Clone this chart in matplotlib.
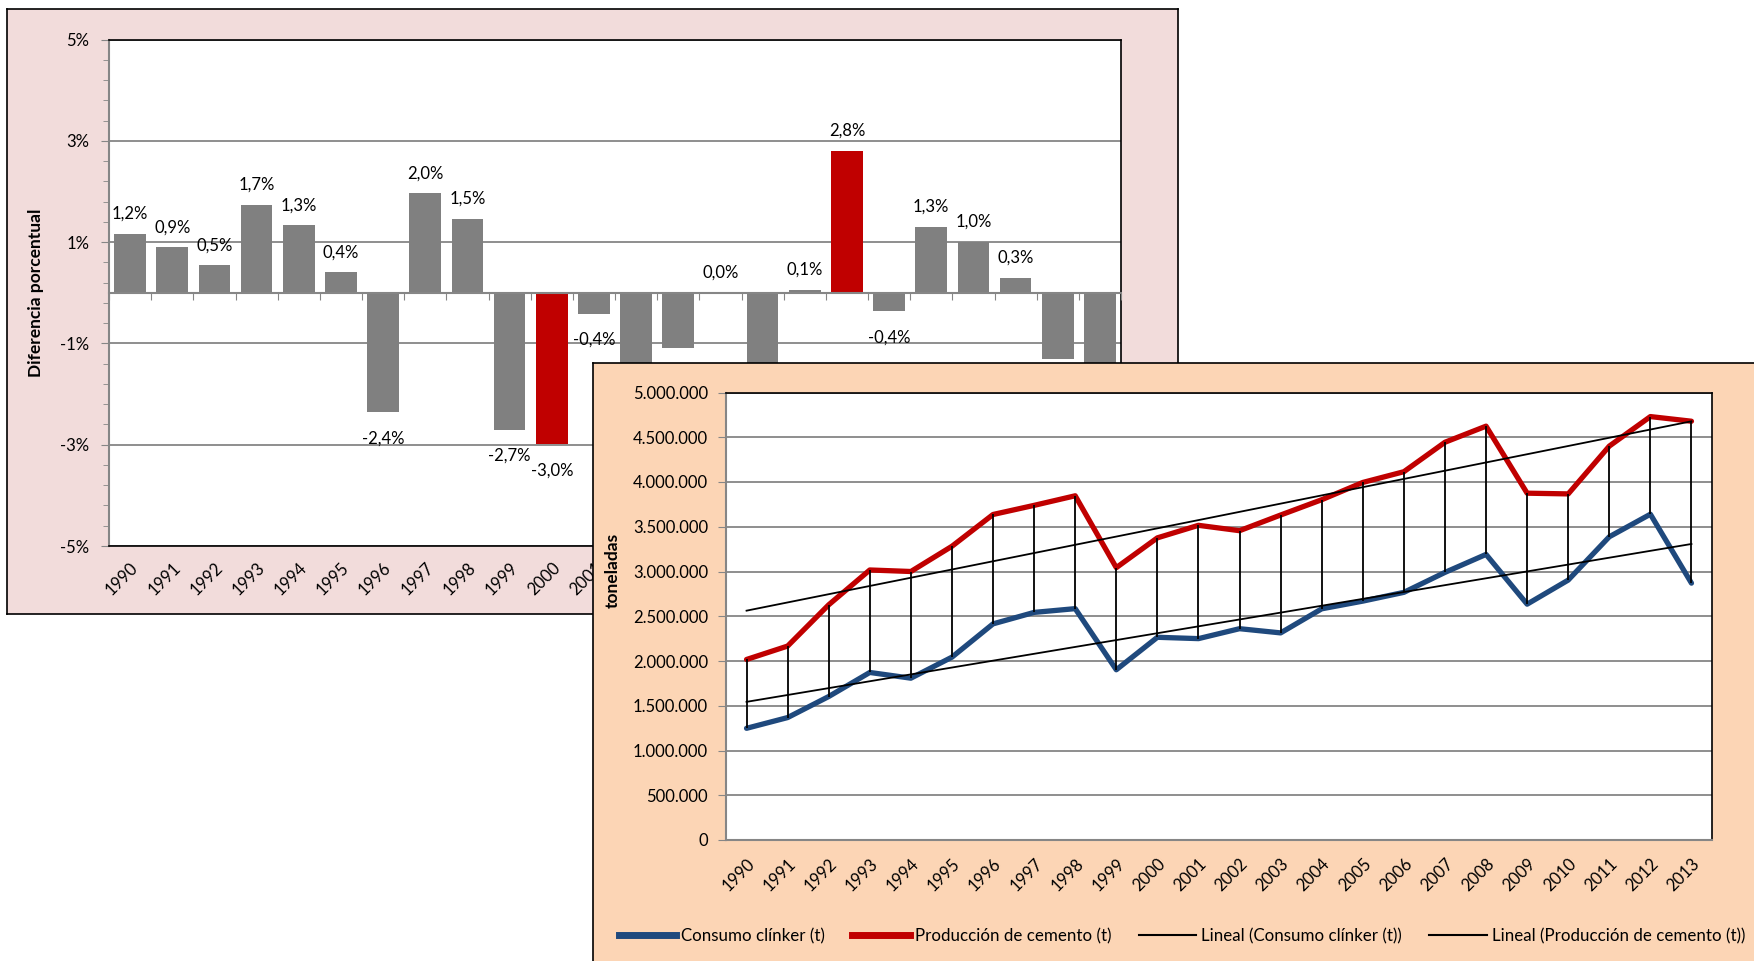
import matplotlib.pyplot as plt
import numpy as np
from matplotlib.lines import Line2D
from matplotlib.ticker import FixedLocator, FuncFormatter

plt.rcParams['font.family'] = ['Lato', 'DejaVu Sans']

# ---- data -------------------------------------------------------------
years = [str(y) for y in range(1990, 2014)]

# upper chart: percentage difference per year
diferencia = [1.16, 0.90, 0.54, 1.74, 1.33, 0.40, -2.36, 1.96, 1.46, -2.70,
              -2.99, -0.41, -1.90, -1.09, 0.00, -2.20, 0.06, 2.80, -0.37, 1.30,
              1.00, 0.29, -1.31, -1.70]
destacados = ['2000', '2007']

# lower chart: tonnes
consumo_clinker = [1248000, 1368000, 1603000, 1872000, 1808000, 2043000,
                   2415000, 2543000, 2585000, 1902000, 2265000, 2250000,
                   2361000, 2314000, 2583000, 2669000, 2767000, 2990000,
                   3191000, 2635000, 2904000, 3388000, 3640000, 2870000]
produccion_cemento = [2017000, 2167000, 2628000, 3017000, 3000000, 3282000,
                      3637000, 3739000, 3846000, 3043000, 3376000, 3516000,
                      3456000, 3631000, 3802000, 3995000, 4115000, 4444000,
                      4624000, 3875000, 3867000, 4401000, 4731000, 4679000]

GRAY = '#868686'
BAR_GRAY = '#808080'
RED = '#C00000'
BLUE = '#1F497D'
FS = 12

W, H = 1754, 961


def rect(x0, y0, x1, y1):
    return [x0 / W, 1 - y1 / H, (x1 - x0) / W, (y1 - y0) / H]


fig = plt.figure(figsize=(W / 100, H / 100), dpi=100)
fig.patch.set_facecolor('white')

# ---- upper chart ------------------------------------------------------
bg1 = fig.add_axes(rect(7, 9, 1178, 614), zorder=0)
bg1.set_facecolor('#F2DCDB')
bg1.set_xticks([])
bg1.set_yticks([])
for s in bg1.spines.values():
    s.set_color('black')
    s.set_linewidth(1.2)

ax1 = fig.add_axes(rect(109, 39.5, 1121, 546), zorder=1)
x = np.arange(len(years))
colores = [RED if y in destacados else BAR_GRAY for y in years]
ax1.bar(x, diferencia, width=0.75, color=colores, zorder=2)
ax1.set_xlim(-0.5, len(years) - 0.5)
ax1.set_ylim(-5, 5)
ax1.set_yticks([-5, -3, -1, 1, 3, 5])
ax1.yaxis.set_major_formatter(FuncFormatter(lambda v, p: f"{v:.0f}%"))
ax1.yaxis.set_minor_locator(FixedLocator(np.arange(-5, 5.01, 0.4)))
ax1.tick_params(axis='y', which='major', length=6, color=GRAY, pad=8, labelsize=FS)
ax1.tick_params(axis='y', which='minor', length=4, color=GRAY)
ax1.yaxis.grid(True, color=GRAY, lw=1.3)
ax1.set_axisbelow(True)
ax1.set_xticks(x, years, rotation=45, ha='right', rotation_mode='anchor')
ax1.tick_params(axis='x', length=0, pad=10, labelsize=FS)
for side in ['top', 'right', 'bottom']:
    ax1.spines[side].set_color('black')
    ax1.spines[side].set_linewidth(1.2)
ax1.spines['left'].set_color(GRAY)
ax1.spines['left'].set_linewidth(1.5)
ax1.set_ylabel('Diferencia porcentual', fontweight='bold', fontsize=12.5)
ax1.yaxis.set_label_coords(-0.064, 0.5)

# zero axis with category tick marks
eje0 = ax1.secondary_xaxis(0.5)
eje0.set_zorder(3)
eje0.set_xticks(np.arange(-0.5, len(years), 1))
eje0.tick_params(direction='in', length=5, color=GRAY, labeltop=False, labelbottom=False)
for s in eje0.spines.values():
    s.set_color(GRAY)
    s.set_linewidth(1.5)

for xi, v in zip(x, diferencia):
    txt = f"{v:.1f}".replace('.', ',') + '%'
    if v >= 0:
        ax1.annotate(txt, (xi, v), xytext=(0, 12), textcoords='offset pixels',
                     ha='center', va='bottom', fontsize=FS)
    else:
        ax1.annotate(txt, (xi, v), xytext=(0, -18), textcoords='offset pixels',
                     ha='center', va='top', fontsize=FS)

# ---- lower chart ------------------------------------------------------
bg2 = fig.add_axes(rect(593, 363, 1754, 962), zorder=2)
bg2.set_facecolor('#FCD5B5')
bg2.set_xticks([])
bg2.set_yticks([])
for side, s in bg2.spines.items():
    s.set_color('black')
    s.set_linewidth(1.2)
    if side in ('right', 'bottom'):
        s.set_visible(False)

ax2 = fig.add_axes(rect(726, 392.5, 1712, 840), zorder=3)
ax2.plot(x, consumo_clinker, color=BLUE, lw=3.8, solid_capstyle='round', zorder=2)
ax2.plot(x, produccion_cemento, color=RED, lw=3.8, solid_capstyle='round', zorder=2)
ax2.vlines(x, consumo_clinker, produccion_cemento, color='black', lw=1.3, zorder=3)
for serie in (consumo_clinker, produccion_cemento):
    m, b = np.polyfit(x, serie, 1)
    ax2.plot(x, m * x + b, color='black', lw=1.3, zorder=3)

ax2.set_xlim(-0.5, len(years) - 0.5)
ax2.set_ylim(0, 5000000)
ax2.set_yticks(np.arange(0, 5000001, 500000))
ax2.yaxis.set_major_formatter(FuncFormatter(lambda v, p: f"{int(v):,}".replace(',', '.')))
ax2.tick_params(axis='y', length=6, color=GRAY, pad=7, labelsize=FS)
ax2.yaxis.grid(True, color=GRAY, lw=1.3)
ax2.set_axisbelow(True)
ax2.set_xticks(x, years, rotation=45, ha='right', rotation_mode='anchor')
ax2.tick_params(axis='x', length=0, pad=11, labelsize=FS)
for side in ['top', 'right']:
    ax2.spines[side].set_color('black')
    ax2.spines[side].set_linewidth(1.2)
for side in ['left', 'bottom']:
    ax2.spines[side].set_color(GRAY)
    ax2.spines[side].set_linewidth(1.5)
ax2.set_ylabel('toneladas', fontweight='bold', fontsize=12.5)
ax2.yaxis.set_label_coords(-0.1065, 0.603)

handles = [Line2D([], [], color=BLUE, lw=5),
           Line2D([], [], color=RED, lw=5),
           Line2D([], [], color='black', lw=1.5),
           Line2D([], [], color='black', lw=1.5)]
labels = ['Consumo clínker (t)', 'Producción de cemento (t)',
          'Lineal (Consumo clínker (t))', 'Lineal (Producción de cemento (t))']
ax2.legend(handles, labels, loc='center', bbox_to_anchor=(1182 / W, 1 - 936 / H),
           bbox_transform=fig.transFigure, ncol=4, frameon=False,
           handlelength=3.4, handletextpad=0.3, columnspacing=1.6, fontsize=12.2)

fig.savefig('out.png', dpi=100)
